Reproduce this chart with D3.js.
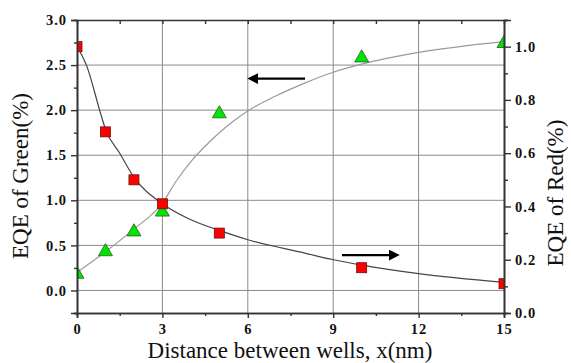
<!DOCTYPE html>
<html>
<head>
<meta charset="utf-8">
<script src="https://cdn.jsdelivr.net/npm/d3@7"></script>
<style>
  body { margin: 0; background: #fff; }
  svg { display: block; font-family: "Liberation Serif", "Times New Roman", serif; }
  .tick-label { font-family: "Liberation Serif", "Times New Roman", serif; font-weight: bold; font-size: 14.5px; letter-spacing: 1px; fill: #111; }
</style>
</head>
<body>
<svg id="chart"></svg>
<script>
// Measured points
const distance = [0, 1, 2, 3, 5, 10, 15];
const greenEqe = [0.18, 0.43, 0.65, 0.87, 1.96, 2.58, 2.74];
const redEqe = [1.0, 0.68, 0.50, 0.41, 0.30, 0.17, 0.11];

// Fitted curves
const greenFitX = [0, 1, 2, 3, 3.5, 4, 4.5, 5, 5.5, 6, 7, 8, 9, 10, 12, 15];
const greenFitY = [0.2, 0.43, 0.68, 0.97, 1.22, 1.43, 1.6, 1.75, 1.88, 1.99, 2.16, 2.3, 2.42, 2.51, 2.64, 2.76];
const redFitX = [0, 0.35, 0.8, 1, 1.5, 2, 3, 4, 5, 6, 8, 9, 10, 12, 15];
const redFitY = [1.0, 0.925, 0.76, 0.69, 0.6, 0.51, 0.41, 0.35, 0.31, 0.275, 0.225, 0.2, 0.18, 0.148, 0.115];

// Tick values
const xMajor = [0, 3, 6, 9, 12, 15];
const xMinor = [1.5, 4.5, 7.5, 10.5, 13.5];
const leftMajor = [0, 0.5, 1.0, 1.5, 2.0, 2.5, 3.0];
const leftMinor = [-0.25, 0.25, 0.75, 1.25, 1.75, 2.25, 2.75];
const rightMajor = [0, 0.2, 0.4, 0.6, 0.8, 1.0];
const rightMinor = [0.1, 0.3, 0.5, 0.7, 0.9, 1.1];

// Arrow annotations (x from -> to, in data units)
const greenArrow = { from: 8.01, to: 6.08, y: 2.35 };
const redArrow = { from: 9.31, to: 11.24, y: 0.2175 };

const width = 571;
const height = 363;
const margin = { top: 20, right: 67, bottom: 50, left: 77 };

const svg = d3.select('#chart')
  .attr('width', width)
  .attr('height', height)
  .attr('viewBox', `0 0 ${width} ${height}`);

const xScale = d3.scaleLinear().domain([0, 15]).range([margin.left, width - margin.right]);
const yLeft = d3.scaleLinear().domain([-0.25, 3]).range([height - margin.bottom, margin.top]);
const yRight = d3.scaleLinear().domain([0, 1.1]).range([height - margin.bottom, margin.top]);

const x0 = margin.left;
const x1 = width - margin.right;
const yTop = margin.top;
const yBot = height - margin.bottom;

svg.append('defs').append('clipPath').attr('id', 'plot-clip')
  .append('rect')
  .attr('x', x0).attr('y', yTop)
  .attr('width', x1 - x0).attr('height', yBot - yTop);

// Grid lines
const grid = svg.append('g').attr('stroke', '#8a8a8a').attr('stroke-width', 1);
grid.selectAll('.vgrid')
  .data(xMajor.filter((d) => d > 0 && d < 15))
  .join('line')
  .attr('x1', (d) => xScale(d)).attr('x2', (d) => xScale(d))
  .attr('y1', yTop).attr('y2', yBot);
grid.selectAll('.hgrid')
  .data(leftMajor.filter((d) => d < 3))
  .join('line')
  .attr('x1', x0).attr('x2', x1)
  .attr('y1', (d) => yLeft(d)).attr('y2', (d) => yLeft(d));

// Fit curves
const plot = svg.append('g').attr('clip-path', 'url(#plot-clip)');

const greenLine = d3.line()
  .x((d) => xScale(d[0]))
  .y((d) => yLeft(d[1]))
  .curve(d3.curveMonotoneX);
const redLine = d3.line()
  .x((d) => xScale(d[0]))
  .y((d) => yRight(d[1]))
  .curve(d3.curveMonotoneX);

plot.append('path')
  .datum(d3.zip(greenFitX, greenFitY))
  .attr('d', greenLine)
  .attr('fill', 'none')
  .attr('stroke', '#9a9a9a')
  .attr('stroke-width', 1.2);

plot.append('path')
  .datum(d3.zip(redFitX, redFitY))
  .attr('d', redLine)
  .attr('fill', 'none')
  .attr('stroke', '#444')
  .attr('stroke-width', 1.2);

// Markers
plot.selectAll('.green-pt')
  .data(d3.zip(distance, greenEqe))
  .join('path')
  .attr('transform', (d) => `translate(${xScale(d[0])},${yLeft(d[1])})`)
  .attr('d', d3.symbol(d3.symbolTriangle, 85))
  .attr('fill', '#00e600')
  .attr('stroke', '#2a5a2a')
  .attr('stroke-width', 0.8);

plot.selectAll('.red-pt')
  .data(d3.zip(distance, redEqe))
  .join('rect')
  .attr('x', (d) => xScale(d[0]) - 5)
  .attr('y', (d) => yRight(d[1]) - 5)
  .attr('width', 10)
  .attr('height', 10)
  .attr('fill', '#ff0000')
  .attr('stroke', '#6a1010')
  .attr('stroke-width', 0.8);

// Arrows
const defs = svg.select('defs');
defs.append('marker')
  .attr('id', 'arrowhead')
  .attr('viewBox', '0 0 10 10')
  .attr('refX', 2).attr('refY', 5)
  .attr('markerWidth', 5).attr('markerHeight', 5)
  .attr('orient', 'auto')
  .append('path')
  .attr('d', 'M0,0 L10,5 L0,10 Z')
  .attr('fill', '#000');

svg.append('line')
  .attr('x1', xScale(greenArrow.from)).attr('x2', xScale(greenArrow.to) + 6)
  .attr('y1', yLeft(greenArrow.y)).attr('y2', yLeft(greenArrow.y))
  .attr('stroke', '#000').attr('stroke-width', 2.2)
  .attr('marker-end', 'url(#arrowhead)');

svg.append('line')
  .attr('x1', xScale(redArrow.from)).attr('x2', xScale(redArrow.to) - 6)
  .attr('y1', yRight(redArrow.y)).attr('y2', yRight(redArrow.y))
  .attr('stroke', '#000').attr('stroke-width', 2.2)
  .attr('marker-end', 'url(#arrowhead)');

// Axes
const fmt = d3.format('.1f');
function styleAxis(g) {
  g.attr('font-family', null).attr('font-size', null);
  g.select('.domain').attr('stroke', '#333').attr('stroke-width', 1.6);
  g.selectAll('.tick line').attr('stroke', '#333').attr('stroke-width', 1.4);
  g.selectAll('.tick text').attr('class', 'tick-label');
}

svg.append('g')
  .attr('transform', `translate(0,${yBot})`)
  .call(d3.axisBottom(xScale).tickValues(xMinor).tickSize(3).tickFormat(''))
  .call(styleAxis);
svg.append('g')
  .attr('transform', `translate(0,${yBot})`)
  .call(d3.axisBottom(xScale).tickValues(xMajor).tickSize(5).tickPadding(6).tickFormat(d3.format('d')))
  .call(styleAxis);

svg.append('g')
  .attr('transform', `translate(0,${yTop})`)
  .call(d3.axisTop(xScale).tickValues(xMinor.concat(xMajor)).tickSizeInner(-4).tickSizeOuter(0).tickFormat(''))
  .call(styleAxis);

svg.append('g')
  .attr('transform', `translate(${x0},0)`)
  .call(d3.axisLeft(yLeft).tickValues(leftMinor).tickSize(3).tickFormat(''))
  .call(styleAxis);
svg.append('g')
  .attr('transform', `translate(${x0},0)`)
  .call(d3.axisLeft(yLeft).tickValues(leftMajor).tickSize(6).tickPadding(4).tickFormat(fmt))
  .call(styleAxis);

svg.append('g')
  .attr('transform', `translate(${x1},0)`)
  .call(d3.axisRight(yRight).tickValues(rightMinor).tickSize(4).tickFormat(''))
  .call(styleAxis);
svg.append('g')
  .attr('transform', `translate(${x1},0)`)
  .call(d3.axisRight(yRight).tickValues(rightMajor).tickSize(7).tickPadding(4).tickFormat(fmt))
  .call(styleAxis);

// Axis titles
svg.append('text')
  .attr('x', 290).attr('y', 358)
  .attr('text-anchor', 'middle')
  .attr('font-size', 23)
  .attr('fill', '#111')
  .text('Distance between wells, x(nm)');

svg.append('text')
  .attr('transform', 'translate(28,176) rotate(-90)')
  .attr('text-anchor', 'middle')
  .attr('font-size', 23)
  .attr('fill', '#111')
  .text('EQE of Green(%)');

svg.append('text')
  .attr('transform', 'translate(563,193) rotate(-90)')
  .attr('text-anchor', 'middle')
  .attr('font-size', 23)
  .attr('fill', '#111')
  .text('EQE of Red(%)');
</script>
</body>
</html>
